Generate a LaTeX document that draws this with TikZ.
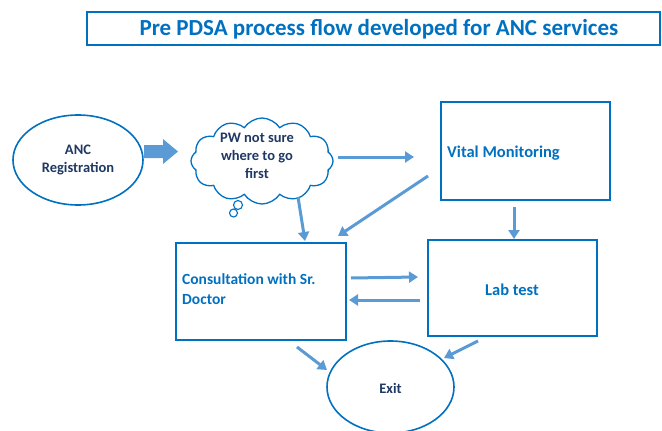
\documentclass[tikz,border=0pt]{standalone}
\usepackage{fontspec}
\setmainfont{Carlito}
\usetikzlibrary{shapes.geometric,shapes.symbols,arrows.meta}
\definecolor{edgeblue}{RGB}{0,112,192}
\definecolor{arrowblue}{RGB}{91,155,213}
\definecolor{navytext}{RGB}{31,56,100}
\definecolor{boxtext}{RGB}{0,112,192}
\tikzset{
  procbox/.style={draw=edgeblue, line width=1.6pt, rectangle, inner sep=0pt},
  ovalnode/.style={draw=edgeblue, line width=1.6pt, ellipse, inner sep=0pt},
  flow/.style={draw=arrowblue, line width=3pt, -{Triangle[length=9pt,width=11pt]}},
  boxlabel/.style={font=\bfseries\fontsize{16.5}{20}\selectfont, text=boxtext, align=left, inner sep=0pt},
  navylabel/.style={font=\bfseries\fontsize{14.5}{18}\selectfont, text=navytext, align=center, inner sep=0pt},
}
\begin{document}
\begin{tikzpicture}[x=1pt,y=-1pt]
\useasboundingbox (0,0) rectangle (662,431);

% title banner
\node[draw=edgeblue, line width=1.6pt, minimum width=573pt, minimum height=33pt, inner sep=0pt] (title) at (373.5,28.5) {};
\node[font=\bfseries\fontsize{23}{26}\selectfont, text=edgeblue, inner sep=0pt] (titletxt) at (379,29)
      {Pre PDSA process flow developed for ANC services};

% registration oval
\node[ovalnode, minimum width=130pt, minimum height=90pt] (reg) at (78,160) {};
\node[navylabel] (regtxt) at (78,160) {ANC\\Registration};

% block arrow into the cloud
\fill[arrowblue] (144,145) -- (163,145) -- (163,139) -- (178,151.5) -- (163,164) -- (163,158) -- (144,158) -- cycle;

% thought cloud
\node[cloud, cloud puffs=12, cloud puff arc=115, draw=edgeblue, line width=1.3pt,
      minimum width=142pt, minimum height=86pt, aspect=1.65, inner sep=0pt] (cloud) at (262,161) {};
\node[navylabel] (cloudtxt) at (257,156) {PW not sure\\where to go\\first};
\draw[edgeblue, line width=1.1pt] (238,205) circle (4.5pt);
\draw[edgeblue, line width=1.1pt] (233.5,213) circle (4pt);

% process boxes
\node[procbox, minimum width=169pt, minimum height=98pt] (vital) at (525.5,151) {};
\node[boxlabel, anchor=west] (vitaltxt) at (447,153) {Vital Monitoring};

\node[procbox, minimum width=170pt, minimum height=97pt] (consult) at (261,291.5) {};
\node[boxlabel, font=\bfseries\fontsize{15.5}{20}\selectfont, anchor=north west] (consulttxt) at (182,273) {Consultation with Sr.\\Doctor};

\node[procbox, minimum width=169pt, minimum height=96pt] (lab) at (512.5,288) {};
\node[boxlabel] (labtxt) at (512,290) {Lab test};

% exit oval
\node[ovalnode, minimum width=127pt, minimum height=92pt] (exit) at (390.5,387) {};
\node[navylabel] (exittxt) at (390.5,388) {Exit};

% connectors
\coordinate (c1) at (338,157);  \coordinate (v1) at (414,157);
\draw[flow] (c1) -- (v1);
\coordinate (v2) at (428,176);  \coordinate (k1) at (338,236);
\draw[flow] (v2) -- (k1);
\coordinate (c2) at (298,197);  \coordinate (k2) at (305,241);
\draw[flow] (c2) -- (k2);
\coordinate (v3) at (514,207);  \coordinate (l1) at (514,239);
\draw[flow] (v3) -- (l1);
\coordinate (k3) at (351,278);  \coordinate (l2) at (418,277);
\draw[flow] (k3) -- (l2);
\coordinate (l3) at (420,300);  \coordinate (k4) at (349,300);
\draw[flow] (l3) -- (k4);
\coordinate (k5) at (297,347);  \coordinate (e1) at (327,370);
\draw[flow] (k5) -- (e1);
\coordinate (l4) at (478,341);  \coordinate (e2) at (444,358);
\draw[flow] (l4) -- (e2);
\end{tikzpicture}
\end{document}
